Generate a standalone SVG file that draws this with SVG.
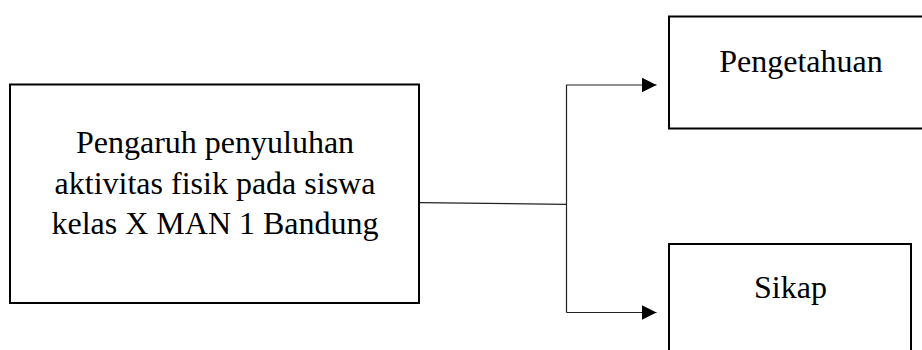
<svg xmlns="http://www.w3.org/2000/svg" width="922" height="350" viewBox="0 0 922 350">
<defs>
<marker id="arr" markerUnits="userSpaceOnUse" markerWidth="16" markerHeight="16" refX="15" refY="8" orient="auto">
<path d="M0,0.5 L15,8 L0,15.5 Z" fill="#000"/>
</marker>
<style>
.box{fill:#fff;stroke:#000;stroke-width:2}
.lbl{font-family:"Liberation Serif","Times New Roman",serif;font-size:32px;fill:#000;text-anchor:middle}
.con{fill:none;stroke:#222;stroke-width:1.2}
</style>
</defs>
<rect width="922" height="350" fill="#fff"/>
<g id="node-main">
<rect class="box" x="10" y="84.5" width="409" height="218.5"/>
<text class="lbl" x="215" y="153">Pengaruh penyuluhan</text>
<text class="lbl" x="215" y="194">aktivitas fisik pada siswa</text>
<text class="lbl" x="215" y="234">kelas X MAN 1 Bandung</text>
</g>
<g id="node-pengetahuan">
<rect class="box" x="669" y="16.5" width="270" height="112"/>
<text class="lbl" x="801" y="72">Pengetahuan</text>
</g>
<g id="node-sikap">
<rect class="box" x="669" y="244" width="242" height="120"/>
<text class="lbl" x="790.5" y="298">Sikap</text>
</g>
<g id="connectors">
<path class="con" d="M420,202.7 L566.5,204.3"/>
<path class="con" d="M566.5,84.7 L566.5,312.5"/>
<path class="con" d="M566.5,85 L656.5,85" marker-end="url(#arr)"/>
<path class="con" d="M566.5,312.5 L656.5,312.5" marker-end="url(#arr)"/>
</g>
</svg>
